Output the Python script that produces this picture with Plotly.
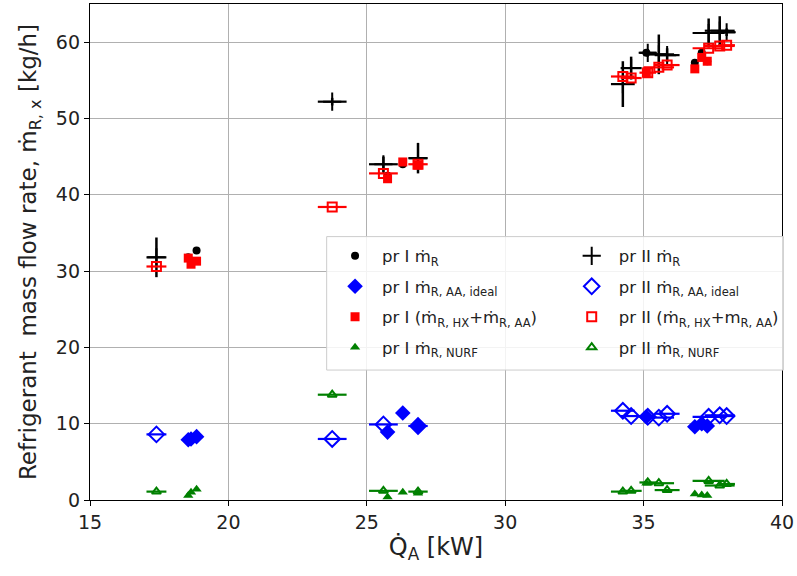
import plotly.graph_objects as go

# ---- pr I (filled markers, no error bars)
p1_q = [18.55, 18.65, 18.85, 25.75, 26.3, 26.85, 35.1, 36.85, 37.1, 37.3]
p1_mr = [31.8, 31.2, 32.7, 42.5, 44.0, 43.9, 58.6, 57.3, 58.6, 57.5]
p1_aa = [7.9, 8.0, 8.3, 8.9, 11.4, 9.7, 10.9, 9.6, 10.0, 9.7]
p1_hx = [31.7, 30.9, 31.3, 42.1, 44.3, 43.9, 56.0, 56.5, 58.0, 57.5]
p1_nurf = [0.6, 1.0, 1.4, 0.4, 1.0, 0.9, 2.2, 0.8, 0.65, 0.6]

# ---- pr II (open markers with error bars)
p2_q = [17.4, 23.75, 25.6, 26.85, 34.25, 34.55, 35.15, 35.55, 35.85, 37.35, 37.75, 38.0]
p2_qerr = [0.36, 0.52, 0.52, 0.35, 0.43, 0.38, 0.3, 0.55, 0.45, 0.58, 0.54, 0.3]
p2_mr = [31.8, 52.2, 44.0, 44.8, 54.5, 56.6, 58.6, 58.4, 58.3, 61.2, 61.5, 61.3]
p2_mrerr = [2.6, 0.5, 1.0, 2.0, 3.0, 1.5, 0.5, 2.6, 0.9, 1.9, 1.9, 0.5]
p2_aa = [8.6, 8.0, 9.9, 9.7, 11.7, 11.0, 10.9, 10.8, 11.3, 10.9, 11.1, 11.0]
p2_hx = [30.6, 38.4, 42.8, 44.0, 55.5, 55.3, 56.0, 56.7, 57.0, 59.2, 59.5, 59.6]
p2_nurf = [1.1, 13.8, 1.2, 1.1, 1.1, 1.2, 2.3, 2.2, 1.3, 2.5, 1.9, 2.1]

x_ticks = [15, 20, 25, 30, 35, 40]
y_ticks = [0, 10, 20, 30, 40, 50, 60]

BLACK = "black"
BLUE = "#0000ff"
RED = "#ff0000"
GREEN = "#008000"

fig = go.Figure()

def p2_trace(y, color, symbol, size, name, rank, yerr=None):
    kw = {}
    if yerr is not None:
        kw["error_y"] = dict(type="data", array=yerr, color=color, thickness=2.5, width=0)
    return go.Scatter(
        x=p2_q, y=y, mode="markers", name=name, legendrank=rank,
        legend="legend2", legendgroup=name,
        marker=dict(symbol=symbol, size=size, color=color,
                    line=dict(color=color, width=2)),
        error_x=dict(type="data", array=p2_qerr, color=color, thickness=2.2, width=0),
        **kw,
    )

def p1_trace(y, color, symbol, size, name, rank):
    return go.Scatter(
        x=p1_q, y=y, mode="markers", name=name, legendrank=rank,
        legend="legend", legendgroup=name,
        marker=dict(symbol=symbol, size=size, color=color, line=dict(width=0)),
    )

fig.add_trace(p1_trace(p1_mr, BLACK, "circle", 8, "pr I ṁ<sub>R</sub>", 1))
fig.add_trace(p2_trace(p2_mr, BLACK, "cross-thin", 13, "pr II ṁ<sub>R</sub>", 2, yerr=p2_mrerr))
fig.add_trace(p2_trace(p2_aa, BLUE, "diamond-open", 12, "pr II ṁ<sub>R, AA, ideal</sub>", 4))
fig.add_trace(p1_trace(p1_aa, BLUE, "diamond", 12, "pr I ṁ<sub>R, AA, ideal</sub>", 3))
fig.add_trace(p2_trace(p2_hx, RED, "square-open", 9, "pr II (ṁ<sub>R, HX</sub>+m<sub>R, AA</sub>)", 6))
fig.add_trace(p1_trace(p1_hx, RED, "square", 9, "pr I (ṁ<sub>R, HX</sub>+ṁ<sub>R, AA</sub>)", 5))
fig.add_trace(p2_trace(p2_nurf, GREEN, "triangle-up-open", 8, "pr II ṁ<sub>R, NURF</sub>", 8))
fig.add_trace(p1_trace(p1_nurf, GREEN, "triangle-up", 9, "pr I ṁ<sub>R, NURF</sub>", 7))

axis_common = dict(
    showgrid=True, gridcolor="#b0b0b0", gridwidth=1,
    showline=True, linecolor="black", linewidth=1.3, mirror=True,
    ticks="outside", ticklen=5, tickcolor="black", ticklabeloverflow="allow",
    tickfont=dict(size=19, color="#222"), zeroline=False,
)

legend_common = dict(
    orientation="v", yanchor="top", xanchor="left",
    bgcolor="rgba(0,0,0,0)", borderwidth=0,
    font=dict(size=16.5, color="#222"),
    traceorder="grouped", tracegroupgap=6, itemwidth=44,
)

fig.update_layout(
    width=797, height=576,
    margin=dict(l=90, r=12, t=3, b=76),
    paper_bgcolor="white", plot_bgcolor="white",
    font=dict(family="DejaVu Sans", color="#222"),
    xaxis=dict(range=[15, 40], tickvals=x_ticks,
               title=dict(text="Q̇<sub>A</sub> [kW]", font=dict(size=24), standoff=6),
               **axis_common),
    yaxis=dict(range=[0, 65], tickvals=y_ticks,
               title=dict(text="Refrigerant  mass flow rate, ṁ<sub>R, x</sub> [kg/h]",
                          font=dict(size=23), standoff=12),
               **axis_common),
    legend=dict(x=0.344, y=0.527, **legend_common),
    legend2=dict(x=0.686, y=0.527, **legend_common),
    shapes=[dict(type="rect", xref="paper", yref="paper",
                 x0=0.342, x1=1.002, y0=0.262, y1=0.531,
                 fillcolor="rgba(255,255,255,0.85)",
                 line=dict(color="#cccccc", width=1), layer="above")],
)

fig.write_html("out.html", config={"displayModeBar": False},
               post_script="document.body.style.margin='0';")
